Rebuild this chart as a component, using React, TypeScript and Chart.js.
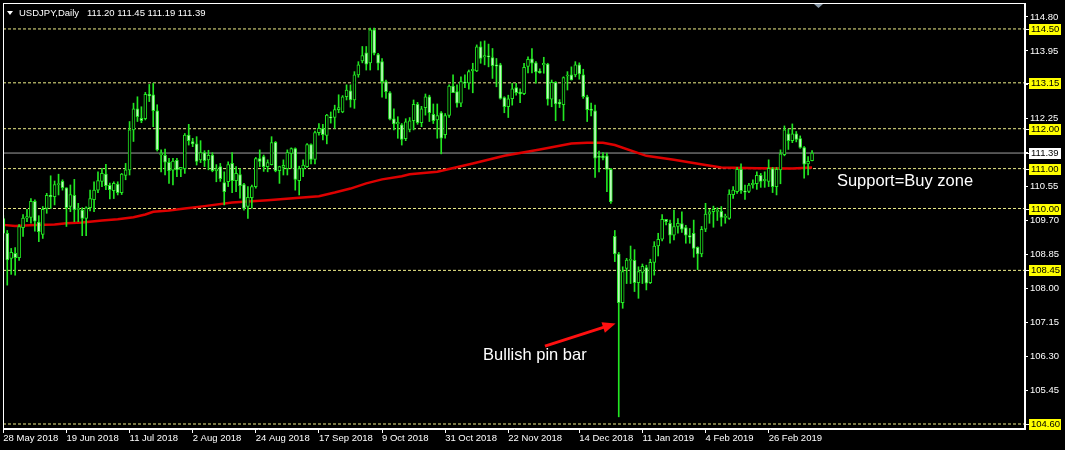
import React, { useEffect, useRef } from "react";
import { Chart, registerables } from "chart.js";

Chart.register(...registerables);

const symbolTitle = "USDJPY,Daily";
const lastQuote = "111.20 111.45 111.19 111.39";

const opens = [
  109.75, 109.38, 108.75, 108.88, 108.77, 109.52, 109.76, 109.78, 110.18, 109.66,
  109.35, 110.0, 110.33, 110.3, 110.6, 110.68, 110.52, 110.05, 110.33, 109.98,
  109.96, 109.75, 110.02, 110.22, 110.46, 110.68, 110.86, 110.58, 110.45, 110.61,
  110.4, 110.83, 110.97, 111.97, 112.5, 112.26, 112.25, 112.86, 112.85, 112.45,
  111.34, 111.33, 111.16, 110.96, 111.21, 110.98, 111.0, 111.84, 111.68, 111.62,
  111.22, 111.4, 111.22, 111.34, 110.95, 111.05, 110.65, 110.67, 111.13, 110.7,
  110.85, 110.6, 110.05, 110.27, 110.55, 111.25, 111.3, 111.05, 111.1, 111.66,
  110.95, 111.03, 111.0, 111.38, 111.5, 110.7, 111.0, 111.05, 111.6, 111.23,
  111.9, 112.0, 111.83, 112.3, 112.28, 112.48, 112.42, 112.8, 112.95, 112.72,
  113.35, 113.7, 113.9, 113.65, 114.48, 113.86, 113.68, 113.18, 112.9, 112.25,
  112.12, 112.1, 111.75, 111.98, 112.2, 112.61, 112.15, 112.53, 112.8, 112.36,
  112.22, 112.4, 111.85, 112.33, 113.07, 112.93, 112.64, 113.17, 113.15, 113.45,
  113.45, 114.05, 113.8, 113.82, 113.78, 113.6, 113.6, 112.78, 112.55, 112.75,
  113.03, 112.92, 112.88, 113.56, 113.75, 113.65, 113.44, 113.6, 113.62, 112.74,
  113.16, 112.66, 112.6, 113.32, 113.35, 113.35, 113.6, 113.35, 112.8, 112.49,
  112.45, 111.3, 111.32, 111.32, 110.98, 109.3, 108.86, 107.64, 108.5, 108.7,
  108.7, 108.14, 108.4, 108.52, 108.14, 108.65, 109.06, 109.23, 109.73, 109.63,
  109.33, 109.55, 109.62, 109.52, 109.32, 109.38, 109.03, 108.86, 109.48, 109.86,
  109.92, 109.93, 109.93, 109.78, 109.75, 110.35, 110.42, 110.98, 110.44, 110.43, 110.6,
  110.62, 110.83, 110.7, 110.68, 111.0, 110.55, 110.97, 111.35, 111.87, 111.7,
  111.87, 111.75, 111.53, 111.12, 111.2,
];
const highs = [
  109.82, 109.45, 109.0, 109.02, 109.6, 109.85, 109.98, 110.25, 110.22, 109.82,
  110.05, 110.38, 110.82, 110.69, 110.86, 110.72, 110.52, 110.59, 110.73, 110.13,
  110.02, 110.04, 110.46, 110.67, 110.92, 111.01, 111.11, 110.64, 110.67, 110.67,
  110.88, 111.13, 112.18, 112.64, 112.8, 112.55, 112.91, 113.11, 113.14, 112.6,
  111.47, 111.49, 111.26, 111.26, 111.26, 111.03, 111.88, 112.11, 111.76, 111.8,
  111.7, 111.45, 111.46, 111.4, 111.1, 111.13, 110.92, 111.17, 111.4, 111.05,
  111.0, 110.63, 110.55, 110.59, 111.28, 111.47, 111.34, 111.22, 111.8, 111.68,
  111.06, 111.22, 111.47, 111.52, 111.52, 111.06, 111.22, 111.63, 111.62, 111.94,
  112.13, 112.11, 112.36, 112.42, 112.59, 112.85, 112.83, 113.1, 113.1, 113.43,
  113.68, 114.06, 114.06, 114.52, 114.52, 113.89, 113.76, 113.22, 112.93, 112.5,
  112.3, 112.13, 112.25, 112.28, 112.72, 112.66, 112.56, 112.87, 112.84, 112.62,
  112.62, 112.43, 112.38, 113.1, 113.35, 113.1, 113.3, 113.35, 113.47, 113.64,
  114.1, 114.18, 114.2, 114.12, 114.01, 113.76, 113.64, 112.8, 112.84, 113.14,
  113.14, 113.0, 113.64, 113.8, 114.01, 113.68, 113.5, 113.79, 113.64, 113.22,
  113.18, 112.73, 113.3, 113.43, 113.55, 113.68, 113.65, 113.49, 112.84, 112.64,
  112.59, 111.44, 111.4, 111.39, 111.01, 109.45, 108.9, 108.54, 108.75, 109.06,
  108.97, 108.54, 108.61, 108.58, 108.73, 109.17, 109.38, 109.85, 109.73, 109.71,
  109.96, 109.75, 109.92, 109.58, 109.5, 109.71, 109.04, 109.55, 110.13, 109.98,
  110.06, 110.02, 110.05, 109.86, 110.47, 110.55, 111.03, 111.12, 110.59, 110.63, 110.72,
  110.92, 110.88, 110.92, 111.22, 111.03, 111.03, 111.47, 112.07, 111.99, 112.12,
  111.93, 111.82, 111.55, 111.3, 111.45,
];
const lows = [
  109.2, 108.08, 108.35, 108.33, 108.7, 109.3, 109.67, 109.63, 109.43, 109.17,
  109.25, 109.88, 110.0, 110.09, 110.34, 110.46, 109.55, 109.92, 109.67, 109.67,
  109.32, 109.32, 109.94, 109.92, 110.4, 110.55, 110.47, 110.24, 110.25, 110.34,
  110.35, 110.72, 110.84, 111.68, 112.18, 112.15, 112.22, 112.68, 112.05, 111.44,
  110.92, 110.84, 110.63, 110.59, 110.8, 110.8, 110.88, 111.59, 111.55, 111.09,
  111.15, 111.05, 110.97, 110.92, 110.67, 110.68, 110.09, 110.55, 110.4, 110.42,
  110.26, 109.96, 109.75, 110.01, 110.51, 111.05, 110.93, 110.92, 111.09, 110.92,
  110.63, 110.84, 110.84, 111.01, 110.46, 110.34, 110.8, 111.03, 111.12, 111.12,
  111.84, 111.72, 111.62, 112.14, 112.01, 112.4, 112.4, 112.72, 112.54, 112.51,
  113.29, 113.65, 113.47, 113.47, 113.85, 113.47, 112.79, 112.76, 112.22, 111.97,
  111.76, 111.59, 111.7, 111.92, 111.97, 112.11, 112.05, 112.34, 112.18, 112.13,
  111.76, 111.37, 111.76, 112.28, 112.9, 112.54, 112.55, 113.03, 112.99, 112.9,
  113.43, 113.64, 113.6, 113.55, 113.26, 113.05, 112.74, 112.4, 112.28, 112.59,
  112.84, 112.65, 112.85, 113.4, 113.4, 113.14, 113.39, 113.39, 112.59, 112.55,
  112.2, 112.53, 112.2, 112.97, 113.22, 113.3, 113.24, 112.76, 112.18, 112.32,
  110.78, 110.92, 111.22, 110.42, 110.13, 108.67, 104.78, 107.5, 108.12, 108.12,
  107.92, 107.75, 108.12, 107.96, 108.12, 108.33, 108.81, 109.19, 109.59, 109.13,
  109.21, 109.38, 109.4, 109.13, 109.13, 108.78, 108.47, 108.79, 109.42, 109.63,
  109.53, 109.7, 109.56, 109.63, 109.73, 110.25, 110.38, 110.38, 110.23, 110.4, 110.51,
  110.48, 110.53, 110.53, 110.55, 110.4, 110.34, 110.62, 111.32, 111.48, 111.65,
  111.67, 111.51, 110.76, 110.84, 111.19,
];
const closes = [
  109.38, 108.71, 108.9, 108.77, 109.55, 109.76, 109.8, 110.18, 109.68, 109.42,
  109.98, 110.33, 110.3, 110.6, 110.62, 110.52, 110.02, 110.35, 109.97, 110.0,
  109.75, 110.02, 110.25, 110.46, 110.7, 110.88, 110.57, 110.47, 110.63, 110.4,
  110.86, 110.97, 111.97, 112.5, 112.3, 112.2, 112.86, 112.82, 112.45, 111.47,
  111.39, 111.16, 110.95, 111.19, 110.97, 111.03, 111.84, 111.7, 111.62, 111.18,
  111.4, 111.2, 111.33, 110.95, 110.99, 110.75, 110.42, 111.1, 110.7, 110.88,
  110.57, 110.0, 110.28, 110.55, 111.25, 111.18, 111.05, 111.15, 111.65, 110.95,
  111.05, 111.08, 111.4, 111.5, 110.73, 111.0, 111.09, 111.6, 111.23, 111.9,
  112.01, 111.85, 112.34, 112.27, 112.48, 112.53, 112.8, 112.97, 112.72, 113.35,
  113.6, 113.83, 113.62, 114.48, 113.89, 113.64, 113.18, 112.93, 112.24, 112.12,
  112.16, 111.73, 112.17, 112.2, 112.61, 112.15, 112.5, 112.8, 112.4, 112.2,
  112.33, 111.76, 112.33, 113.07, 112.9, 112.64, 113.18, 113.14, 113.43, 113.49,
  114.05, 113.76, 113.83, 113.8, 113.58, 113.57, 112.76, 112.55, 112.75, 113.0,
  112.9, 112.87, 113.54, 113.74, 113.64, 113.42, 113.4, 113.64, 112.74, 113.16,
  112.62, 112.62, 113.28, 113.34, 113.22, 113.6, 113.37, 112.8, 112.48, 112.46,
  111.26, 111.28, 111.27, 110.98, 110.17, 108.86, 107.64, 108.42, 108.71, 108.72,
  108.14, 108.42, 108.55, 108.13, 108.65, 109.06, 109.23, 109.73, 109.67, 109.33,
  109.55, 109.63, 109.48, 109.33, 109.28, 109.0, 108.86, 109.48, 109.86, 109.92,
  109.98, 109.95, 109.78, 109.8, 110.36, 110.46, 110.98, 110.45, 110.41, 110.59, 110.63,
  110.83, 110.68, 110.73, 111.01, 110.55, 110.98, 111.37, 111.97, 111.7, 111.87,
  111.73, 111.53, 111.11, 111.18, 111.39,
];

const maIndex = [0, 3, 8, 13, 16, 20, 25, 29, 33, 36, 38, 42, 46, 51, 58, 67, 75, 80, 84, 88, 92, 96, 101, 103, 110, 119, 127, 136, 144, 148, 152, 155, 163, 170, 178, 182, 191, 200, 205];
const maValue = [109.59, 109.56, 109.59, 109.6, 109.63, 109.65, 109.7, 109.73, 109.78, 109.85, 109.92, 109.95, 110.0, 110.06, 110.15, 110.21, 110.27, 110.31, 110.4, 110.5, 110.63, 110.73, 110.81, 110.86, 110.92, 111.13, 111.32, 111.48, 111.63, 111.65, 111.65, 111.59, 111.32, 111.22, 111.09, 111.03, 111.01, 111.0, 111.03];

const dateTickIndex = [0, 16, 32, 48, 64, 80, 96, 112, 128, 146, 162, 178, 194];
const dateTickLabel = [
  "28 May 2018", "19 Jun 2018", "11 Jul 2018", "2 Aug 2018", "24 Aug 2018", "17 Sep 2018",
  "9 Oct 2018", "31 Oct 2018", "22 Nov 2018", "14 Dec 2018", "11 Jan 2019", "4 Feb 2019", "26 Feb 2019",
];

const priceTicks = [114.8, 113.95, 113.1, 112.25, 111.4, 110.55, 109.7, 108.85, 108.0, 107.15, 106.3, 105.45, 104.6];
const levelLines = [114.5, 113.15, 112.0, 111.0, 110.0, 108.45, 104.6];
const currentPrice = 111.39;

const noteTexts = ["Support=Buy zone", "Bullish pin bar"];
const noteIndex = [211.3, 121.6];
const notePrice = [110.69, 106.33];
const arrowIndex = [137.3, 155.2];
const arrowPrice = [106.55, 107.12];

const X_MIN = -0.08;
const X_MAX = 258.98;
const Y_MIN = 104.475;
const Y_MAX = 115.15;

const FONT = "'Liberation Sans', Arial, sans-serif";
const LIME = "#22e622";
const BEAR_FILL = "#c0f8c0";

export default function App() {
  const ref = useRef<HTMLCanvasElement | null>(null);

  useEffect(() => {
    document.body.style.margin = "0";
    document.body.style.background = "#000";
    const canvas = ref.current;
    if (!canvas) return;

    const idx = opens.map((_, i) => i);
    const bodies = idx.map((i) => ({ x: i, y: [opens[i], closes[i]] }));
    const wicks = idx.map((i) => ({ x: i, y: [lows[i], highs[i]] }));
    const bodyFill = idx.map((i) => (closes[i] >= opens[i] ? "#000000" : BEAR_FILL));
    const ma = maIndex.map((v, i) => ({ x: v, y: maValue[i] }));

    const levelSets: any[] = levelLines.map((v) => ({
      type: "line",
      data: [
        { x: X_MIN, y: v },
        { x: X_MAX, y: v },
      ],
      borderColor: "#eeee88",
      borderWidth: 1,
      borderDash: [3, 2],
      pointRadius: 0,
      order: 10,
    }));

    const decor = {
      id: "decor",
      afterDraw(chart: any) {
        const { ctx, chartArea, scales } = chart;
        const xs = scales.x;
        const ys = scales.y;
        ctx.save();
        // frame
        ctx.strokeStyle = "#ffffff";
        ctx.lineWidth = 1;
        ctx.strokeRect(
          Math.round(chartArea.left) + 0.5,
          Math.round(chartArea.top) + 0.5,
          Math.round(chartArea.right - chartArea.left) - 1,
          Math.round(chartArea.bottom - chartArea.top) - 1
        );
        // price labels on the right
        ctx.font = `9.5px ${FONT}`;
        ctx.textBaseline = "middle";
        ctx.textAlign = "left";
        const r = Math.round(chartArea.right);
        const drawBox = (v: number, bg: string) => {
          const py = Math.round(ys.getPixelForValue(v));
          ctx.fillStyle = "#ffffff";
          ctx.fillRect(r, py, 4, 1);
          ctx.fillStyle = bg;
          ctx.fillRect(r + 4, py - 5, 32, 11);
          ctx.fillStyle = "#000000";
          ctx.fillText(v.toFixed(2), r + 6, py + 0.5);
        };
        levelLines.forEach((v) => drawBox(v, "#ffff00"));
        drawBox(currentPrice, "#ffffff");

        // header
        ctx.fillStyle = "#ffffff";
        ctx.beginPath();
        ctx.moveTo(7, 11);
        ctx.lineTo(13, 11);
        ctx.lineTo(10, 15);
        ctx.closePath();
        ctx.fill();
        ctx.font = `9.5px ${FONT}`;
        ctx.fillText(symbolTitle, 19, 13);
        ctx.fillText(lastQuote, 87, 13);

        // shift marker
        ctx.fillStyle = "#8898a8";
        ctx.beginPath();
        ctx.moveTo(814, 4);
        ctx.lineTo(823, 4);
        ctx.lineTo(818.5, 8);
        ctx.closePath();
        ctx.fill();

        // notes
        ctx.fillStyle = "#ffffff";
        ctx.font = `16.5px ${FONT}`;
        noteTexts.forEach((t, i) => {
          ctx.fillText(t, xs.getPixelForValue(noteIndex[i]), ys.getPixelForValue(notePrice[i]));
        });

        // arrow
        const x0 = xs.getPixelForValue(arrowIndex[0]);
        const y0 = ys.getPixelForValue(arrowPrice[0]);
        const x1 = xs.getPixelForValue(arrowIndex[1]);
        const y1 = ys.getPixelForValue(arrowPrice[1]);
        const ang = Math.atan2(y1 - y0, x1 - x0);
        const headLen = 13;
        const headW = 5.5;
        ctx.strokeStyle = "#ff1010";
        ctx.fillStyle = "#ff1010";
        ctx.lineWidth = 3;
        ctx.beginPath();
        ctx.moveTo(x0, y0);
        ctx.lineTo(x1 - Math.cos(ang) * headLen * 0.8, y1 - Math.sin(ang) * headLen * 0.8);
        ctx.stroke();
        ctx.beginPath();
        ctx.moveTo(x1, y1);
        const bx = x1 - Math.cos(ang) * headLen;
        const by = y1 - Math.sin(ang) * headLen;
        ctx.lineTo(bx + Math.sin(ang) * headW, by - Math.cos(ang) * headW);
        ctx.lineTo(bx - Math.sin(ang) * headW, by + Math.cos(ang) * headW);
        ctx.closePath();
        ctx.fill();
        ctx.restore();
      },
    };

    const chart = new Chart(canvas, {
      type: "bar",
      data: {
        datasets: [
          {
            type: "bar",
            data: bodies as any,
            backgroundColor: bodyFill,
            borderColor: LIME,
            borderWidth: 1,
            borderSkipped: false,
            barThickness: 3,
            minBarLength: 1,
            grouped: false,
            order: 1,
          } as any,
          {
            type: "bar",
            data: wicks as any,
            backgroundColor: LIME,
            borderWidth: 0,
            barThickness: 1,
            grouped: false,
            order: 2,
          } as any,
          {
            type: "line",
            data: ma as any,
            borderColor: "#dd0000",
            borderWidth: 2.5,
            pointRadius: 0,
            tension: 0,
            order: 3,
          } as any,
          {
            type: "line",
            data: [
              { x: X_MIN, y: currentPrice },
              { x: X_MAX, y: currentPrice },
            ] as any,
            borderColor: "#a0a0a0",
            borderWidth: 1,
            pointRadius: 0,
            order: 9,
          } as any,
          ...levelSets,
        ],
      },
      options: {
        animation: false,
        responsive: false,
        maintainAspectRatio: false,
        layout: { padding: { left: 3, top: 3, right: 0, bottom: 0 } },
        plugins: { legend: { display: false }, tooltip: { enabled: false } },
        scales: {
          x: {
            type: "linear",
            min: X_MIN,
            max: X_MAX,
            offset: false,
            afterBuildTicks: (s: any) => {
              s.ticks = dateTickIndex.map((v) => ({ value: v }));
            },
            afterFit: (s: any) => {
              s.height = 21;
              s.paddingLeft = 0;
              s.paddingRight = 0;
            },
            ticks: {
              autoSkip: false,
              maxRotation: 0,
              minRotation: 0,
              align: "start",
              padding: 0,
              color: "#ffffff",
              font: { family: FONT, size: 9.5 },
              callback: (v: any) => {
                const k = dateTickIndex.indexOf(Number(v));
                return k >= 0 ? dateTickLabel[k] : "";
              },
            },
            grid: { display: true, drawOnChartArea: false, drawTicks: true, tickLength: 4, color: "#ffffff", offset: false },
            border: { display: true, color: "#ffffff" },
          },
          y: {
            type: "linear",
            position: "right",
            min: Y_MIN,
            max: Y_MAX,
            afterBuildTicks: (s: any) => {
              s.ticks = priceTicks.map((v) => ({ value: v }));
            },
            afterFit: (s: any) => {
              s.width = 40;
              s.paddingTop = 0;
              s.paddingBottom = 0;
            },
            ticks: {
              autoSkip: false,
              padding: 2,
              color: "#ffffff",
              font: { family: FONT, size: 9.5 },
              callback: (v: any) => Number(v).toFixed(2),
            },
            grid: { display: true, drawOnChartArea: false, drawTicks: true, tickLength: 3, color: "#ffffff" },
            border: { display: true, color: "#ffffff" },
          },
        },
      } as any,
      plugins: [decor],
    });

    return () => chart.destroy();
  }, []);

  return (
    <div style={{ width: 1065, height: 450, background: "#000" }}>
      <canvas ref={ref} width={1065} height={450} style={{ display: "block" }} />
    </div>
  );
}
